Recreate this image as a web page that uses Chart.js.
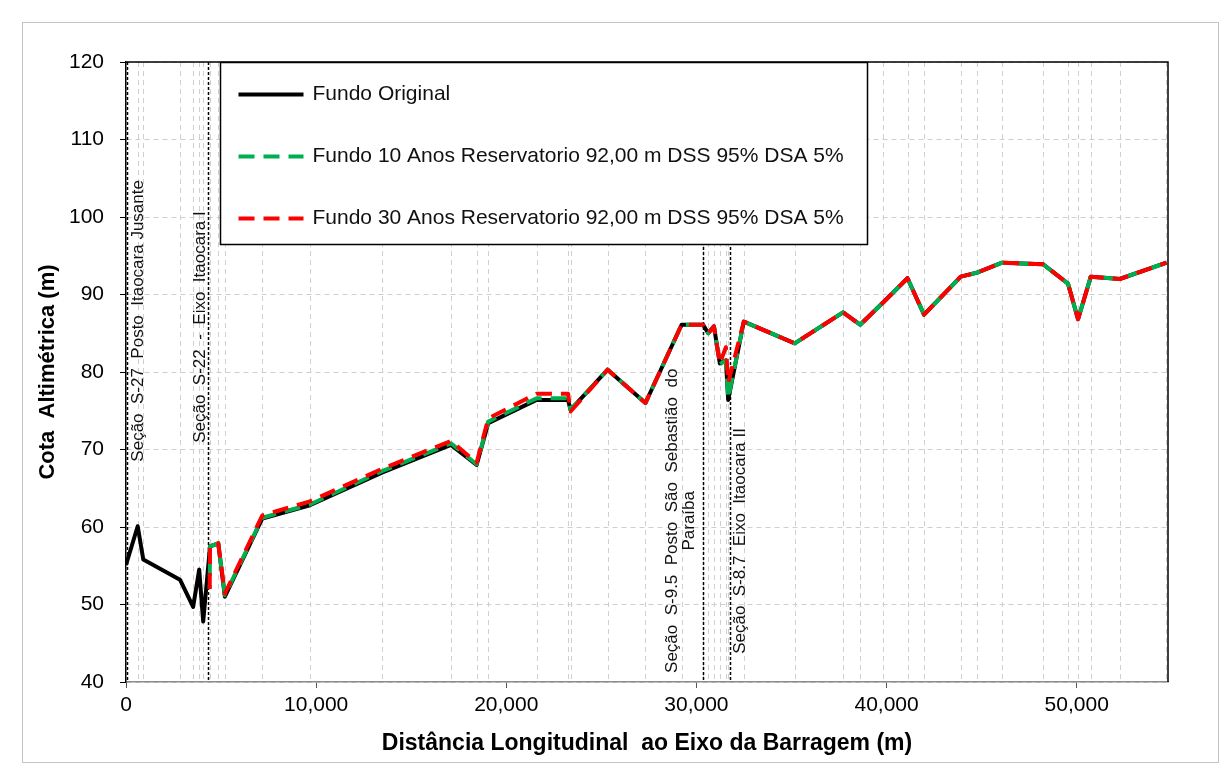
<!DOCTYPE html>
<html lang="pt-BR">
<head>
<meta charset="utf-8">
<title>Perfil longitudinal do fundo</title>
<script src="https://cdn.jsdelivr.net/npm/chart.js@4.4.1/dist/chart.umd.min.js"></script>
<style>
  html, body { margin: 0; padding: 0; background: #fff; }
  #wrap { width: 1228px; height: 778px; }
</style>
</head>
<body>
<div id="wrap"><canvas id="perfil" width="1228" height="778"></canvas></div>
<script>
// Estacas do perfil (distancia ao eixo da barragem, m)
const estacas = [
    0, 615, 910, 2840, 3530, 3850, 4060, 4420, 4850, 5200,
    7170, 9670, 13460, 17090, 18440, 19050, 21590, 23250, 23380, 25330,
    27320, 29220, 30350, 30620, 30920, 31230, 31550, 31670, 32490, 35170,
    37710, 38610, 39830, 41100, 41970, 43900, 44730, 46070, 48230, 49540,
    50070, 50740, 52260, 54720,
];
const fundoOriginal = [
    55.1, 60.1, 55.8, 53.2, 49.7, 54.5, 47.8, 57.5, 57.9, 51.0,
    61.1, 62.8, 67.0, 70.6, 68.0, 73.4, 76.4, 76.4, 75.1, 80.3,
    76.0, 86.1, 86.1, 85.0, 85.9, 81.1, 81.5, 76.4, 86.5, 83.7,
    87.7, 86.1, 89.0, 92.1, 87.4, 92.3, 92.8, 94.1, 93.9, 91.4,
    86.8, 92.3, 92.0, 94.1,
];

// Trecho do reservatorio (a partir do eixo Itaocara I)
const estacasReservatorio = [
    4400, 4420, 4850, 5200, 7170, 9670, 13460, 17090, 18440, 19050,
    21590, 23250, 23380, 25330, 27320, 29220, 30350, 30620, 30920, 31230,
    31550, 31670, 32490, 35170, 37710, 38610, 39830, 41100, 41970, 43900,
    44730, 46070, 48230, 49540, 50070, 50740, 52260, 54720,
];
const fundo10Anos = [
    52.0, 57.5, 57.9, 51.2, 61.2, 62.9, 67.2, 70.8, 68.1, 73.6,
    76.6, 76.6, 75.1, 80.3, 76.0, 86.1, 86.1, 85.0, 85.9, 81.0,
    81.5, 76.6, 86.5, 83.7, 87.7, 86.1, 89.0, 92.1, 87.4, 92.3,
    92.8, 94.1, 93.9, 91.4, 86.8, 92.3, 92.0, 94.1,
];
const fundo30Anos = [
    52.0, 57.5, 57.9, 51.4, 61.5, 63.3, 67.5, 71.1, 68.3, 74.0,
    77.2, 77.2, 74.9, 80.3, 76.0, 86.1, 86.1, 85.0, 85.9, 81.1,
    83.2, 78.6, 86.5, 83.7, 87.7, 86.1, 89.0, 92.1, 87.4, 92.3,
    92.8, 94.1, 93.9, 91.4, 86.8, 92.3, 92.0, 94.1,
];

const ticksX = [0, 10000, 20000, 30000, 40000, 50000];
const ticksY = [40, 50, 60, 70, 80, 90, 100, 110, 120];

// Secoes de referencia (estaca + texto do rotulo)
const secoes = [
    { estaca: 40, texto: ["Seção  S-27  Posto  Itaocara Jusante"] },
    { estaca: 4300, texto: ["Seção  S-22  -  Eixo  Itaocara I"] },
    { estaca: 30350, texto: ["Seção  S-9.5  Posto  São  Sebastião  do", "Paraíba"] },
    { estaca: 31780, texto: ["Seção  S-8.7  Eixo  Itaocara II"] },
];

// deslocamento do texto em relacao a linha e cota do centro do rotulo
const rotuloSecao = [
    { dx: 11, cota: 86.6 },
    { dx: -8, cota: 85.8 },
    { dx: -31, cota: 60.8 },
    { dx: 10, cota: 58.2 },
];

const FONTE = "'Liberation Sans', Arial, sans-serif";
Chart.defaults.font.family = FONTE;
Chart.defaults.color = "#000";

function pares(xs, ys) {
    return xs.map((x, i) => ({ x: x, y: ys[i] }));
}

function milhar(v) {
    return String(v).replace(/\B(?=(\d{3})+(?!\d))/g, ",");
}

// Linhas de grade verticais nas estacas do levantamento
const gradeEstacas = {
    id: "gradeEstacas",
    beforeDatasetsDraw(chart) {
        const { ctx, chartArea } = chart;
        const x = chart.scales.x;
        ctx.save();
        ctx.strokeStyle = "#cfcfcf";
        ctx.lineWidth = 1;
        ctx.setLineDash([5, 4]);
        estacas.forEach((e) => {
            if (e <= 0) return;
            const px = Math.round(x.getPixelForValue(e)) + 0.5;
            ctx.beginPath();
            ctx.moveTo(px, chartArea.top);
            ctx.lineTo(px, chartArea.bottom);
            ctx.stroke();
        });
        ctx.restore();
    },
};

// Secoes marcadas com linha tracejada preta e rotulo vertical
const marcasSecoes = {
    id: "marcasSecoes",
    beforeDatasetsDraw(chart) {
        const { ctx, chartArea } = chart;
        const x = chart.scales.x;
        const y = chart.scales.y;
        ctx.save();
        secoes.forEach((s, i) => {
            const px = Math.round(x.getPixelForValue(s.estaca)) + 0.5;
            ctx.strokeStyle = "#000";
            ctx.lineWidth = 1.5;
            ctx.setLineDash([3, 2]);
            ctx.beginPath();
            ctx.moveTo(px, chartArea.top);
            ctx.lineTo(px, chartArea.bottom);
            ctx.stroke();

            const r = rotuloSecao[i];
            ctx.save();
            ctx.translate(px + r.dx, y.getPixelForValue(r.cota));
            ctx.rotate(-Math.PI / 2);
            ctx.font = "17px " + FONTE;
            ctx.fillStyle = "#111";
            ctx.textAlign = "center";
            ctx.textBaseline = "middle";
            s.texto.forEach((linha, k) => {
                ctx.fillText(linha, 0, k * 17);
            });
            ctx.restore();
        });
        ctx.restore();
    },
};

// Legenda em caixa dentro da area do grafico
const legendaCaixa = {
    id: "legendaCaixa",
    afterDatasetsDraw(chart) {
        const { ctx, chartArea } = chart;
        const left = chartArea.left + 94.5;
        const top = chartArea.top + 0.5;
        const w = 647;
        const h = 182;
        ctx.save();
        ctx.fillStyle = "#fff";
        ctx.fillRect(left, top, w, h);
        ctx.strokeStyle = "#000";
        ctx.lineWidth = 1.5;
        ctx.strokeRect(left, top, w, h);

        ctx.font = "21px " + FONTE;
        ctx.textBaseline = "middle";
        ctx.textAlign = "left";
        chart.data.datasets.forEach((ds, i) => {
            const cy = top + 32 + i * 62;
            ctx.strokeStyle = ds.borderColor;
            ctx.lineWidth = ds.borderWidth;
            ctx.setLineDash(ds.borderDash || []);
            ctx.lineDashOffset = 0;
            ctx.beginPath();
            ctx.moveTo(left + 18, cy);
            ctx.lineTo(left + 83, cy);
            ctx.stroke();
            ctx.fillStyle = "#111";
            ctx.fillText(ds.label, left + 92, cy);
        });
        ctx.restore();
    },
};

// Moldura: topo e lado direito da area do grafico, borda externa
const moldura = {
    id: "moldura",
    beforeDraw(chart) {
        const ctx = chart.ctx;
        ctx.save();
        ctx.fillStyle = "#fff";
        ctx.fillRect(0, 0, chart.width, chart.height);
        ctx.strokeStyle = "#c4c4c4";
        ctx.lineWidth = 1;
        ctx.strokeRect(22.5, 22.5, 1196, 740);
        ctx.restore();
    },
    afterDraw(chart) {
        const { ctx, chartArea } = chart;
        ctx.save();
        ctx.strokeStyle = "#000";
        ctx.lineWidth = 1.5;
        ctx.beginPath();
        ctx.moveTo(chartArea.left, chartArea.top);
        ctx.lineTo(chartArea.right, chartArea.top);
        ctx.lineTo(chartArea.right, chartArea.bottom);
        ctx.stroke();
        ctx.restore();
    },
};

const ctx = document.getElementById("perfil").getContext("2d");
new Chart(ctx, {
    type: "line",
    data: {
        datasets: [
            {
                label: "Fundo Original",
                data: pares(estacas, fundoOriginal),
                borderColor: "#000000",
                borderWidth: 4,
                order: 3,
            },
            {
                label: "Fundo 10 Anos Reservatorio 92,00 m DSS 95% DSA 5%",
                data: pares(estacasReservatorio, fundo10Anos),
                borderColor: "#00b050",
                borderWidth: 4,
                borderDash: [16, 9],
                borderDashOffset: 12,
                order: 2,
            },
            {
                label: "Fundo 30 Anos Reservatorio 92,00 m DSS 95% DSA 5%",
                data: pares(estacasReservatorio, fundo30Anos),
                borderColor: "#ff0000",
                borderWidth: 4,
                borderDash: [16, 9],
                order: 1,
            },
        ],
    },
    options: {
        responsive: false,
        animation: false,
        layout: { padding: { left: 0, top: 62, right: 60, bottom: 0 } },
        elements: {
            point: { radius: 0 },
            line: { tension: 0, borderCapStyle: "butt", borderJoinStyle: "round" },
        },
        plugins: {
            legend: { display: false },
            tooltip: { enabled: false },
        },
        scales: {
            x: {
                type: "linear",
                min: 0,
                max: 54800,
                afterBuildTicks: (scale) => {
                    scale.ticks = ticksX.map((v) => ({ value: v }));
                },
                afterFit: (scale) => {
                    scale.height = 96;
                },
                grid: {
                    drawOnChartArea: false,
                    tickLength: 6,
                    tickColor: "#555",
                },
                border: { color: "#8c8c8c", width: 1.5 },
                ticks: {
                    font: { size: 21 },
                    padding: 5,
                    maxRotation: 0,
                    callback: (v) => milhar(v),
                },
                title: {
                    display: true,
                    text: "Distância Longitudinal  ao Eixo da Barragem (m)",
                    font: { size: 23, weight: "bold" },
                    padding: { top: 0, bottom: 21 },
                },
            },
            y: {
                min: 40,
                max: 120,
                afterBuildTicks: (scale) => {
                    scale.ticks = ticksY.map((v) => ({ value: v }));
                },
                afterFit: (scale) => {
                    scale.width = 126;
                },
                grid: {
                    color: "#cfcfcf",
                    tickLength: 6,
                    tickColor: "#000",
                },
                border: { color: "#000", width: 1.5, dash: [5, 4] },
                ticks: {
                    font: { size: 21 },
                    padding: 16,
                },
                title: {
                    display: true,
                    text: "Cota  Altimétrica (m)",
                    font: { size: 22, weight: "bold" },
                    padding: { top: 35, bottom: 0 },
                },
            },
        },
    },
    plugins: [moldura, gradeEstacas, marcasSecoes, legendaCaixa],
});
</script>
</body>
</html>
